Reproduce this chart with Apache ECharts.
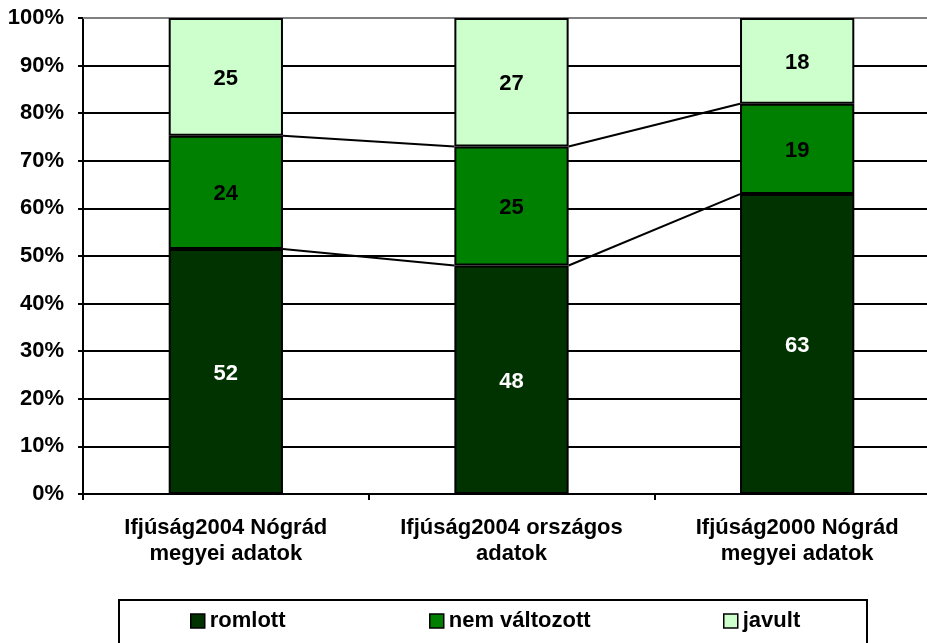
<!DOCTYPE html>
<html>
<head>
<meta charset="utf-8">
<script src="https://cdn.jsdelivr.net/npm/echarts@6/dist/echarts.min.js"></script>
<style>html,body{margin:0;padding:0;background:#fff;}#c{width:927px;height:643px;}</style>
</head>
<body>
<div id="c"></div>
<script>
const categories = ['Ifjúság2004 Nógrád\nmegyei adatok', 'Ifjúság2004 országos\nadatok', 'Ifjúság2000 Nógrád\nmegyei adatok'];
const seriesNames = ['romlott', 'nem változott', 'javult'];
const romlott = [52, 48, 63];
const nemValtozott = [24, 25, 19];
const javult = [25, 27, 18];
const yTicks = [0, 10, 20, 30, 40, 50, 60, 70, 80, 90, 100];

const raw = [romlott, nemValtozott, javult];
const totals = categories.map((_, i) => raw.reduce((s, arr) => s + arr[i], 0));
const pct = raw.map(arr => arr.map((v, i) => v / totals[i] * 100));
const colors = ['#003300', '#008000', '#CCFFCC'];
const labelColors = ['#ffffff', '#000000', '#000000'];
const FONT = '"Liberation Sans", Arial, sans-serif';

// cumulative tops for series lines
const cum = [];
pct.forEach((arr, s) => cum.push(arr.map((v, i) => (s ? cum[s - 1][i] : 0) + v)));

const barSeries = seriesNames.map((name, s) => ({
  name, type: 'bar', stack: 'all', barWidth: '40%',
  data: pct[s].map((v, i) => ({ value: v, raw: raw[s][i] })),
  itemStyle: { color: colors[s], borderColor: '#000', borderWidth: 2 },
  label: {
    show: true, position: 'inside', color: labelColors[s], offset: [0, 2],
    fontFamily: FONT, fontWeight: 'bold', fontSize: 22,
    formatter: p => String(p.data.raw)
  },
  z: 2
}));

const lineData = [];
for (let s = 0; s < 2; s++) {
  for (let i = 0; i < categories.length - 1; i++) lineData.push([i, cum[s][i], cum[s][i + 1]]);
}
const seriesLines = {
  type: 'custom', name: 'lines', silent: true, z: 5,
  encode: { x: 0, y: 1 },
  data: lineData,
  renderItem: (params, api) => {
    const i = api.value(0);
    const p1 = api.coord([i, api.value(1)]);
    const p2 = api.coord([i + 1, api.value(2)]);
    const half = api.size([1, 0])[0] * 0.2;
    return { type: 'line', shape: { x1: p1[0] + half, y1: p1[1], x2: p2[0] - half, y2: p2[1] },
      style: { stroke: '#000', lineWidth: 2 } };
  }
};

const legendBase = {
  orient: 'horizontal', top: 610, icon: 'rect', itemWidth: 14, itemHeight: 14, itemGap: 5,
  padding: 0, selectedMode: false,
  textStyle: { fontFamily: FONT, fontWeight: 'bold', fontSize: 22, color: '#000' },
  itemStyle: { borderColor: '#000', borderWidth: 1.5 }
};

const chart = echarts.init(document.getElementById('c'), null, { renderer: 'canvas' });
chart.setOption({
  animation: false,
  backgroundColor: '#fff',
  grid: { left: 83, top: 18, bottom: 149, right: -13, containLabel: false, outerBoundsMode: 'none' },
  xAxis: [{
    type: 'category', data: categories, position: 'bottom',
    axisLine: { lineStyle: { color: '#000', width: 2 } },
    axisTick: { show: true, length: 6, lineStyle: { color: '#000', width: 2 } },
    axisLabel: { margin: 21, color: '#000', fontFamily: FONT, fontWeight: 'bold', fontSize: 22, lineHeight: 26, interval: 0 }
  }, {
    type: 'category', data: categories, position: 'top',
    axisLine: { show: true, lineStyle: { color: '#808080', width: 2 } },
    axisTick: { show: false }, axisLabel: { show: false }
  }],
  yAxis: {
    type: 'value', min: 0, max: 100, interval: 10,
    axisLine: { show: true, lineStyle: { color: '#000', width: 2 } },
    axisTick: { show: true, length: 5, lineStyle: { color: '#000', width: 2 } },
    splitLine: { show: true, lineStyle: { color: '#000', width: 2 } },
    axisLabel: { margin: 19, color: '#000', fontFamily: FONT, fontWeight: 'bold', fontSize: 22,
      formatter: v => (yTicks.includes(v) ? v + '%' : '') }
  },
  legend: [
    Object.assign({}, legendBase, { data: ['romlott'], left: 190 }),
    Object.assign({}, legendBase, { data: ['nem változott'], left: 429 }),
    Object.assign({}, legendBase, { data: ['javult'], left: 723 })
  ],
  graphic: [{
    type: 'rect', left: 118, top: 599, z: -1,
    shape: { width: 748, height: 70 },
    style: { fill: '#fff', stroke: '#000', lineWidth: 2 }
  }],
  series: barSeries.concat([seriesLines])
});
</script>
</body>
</html>
